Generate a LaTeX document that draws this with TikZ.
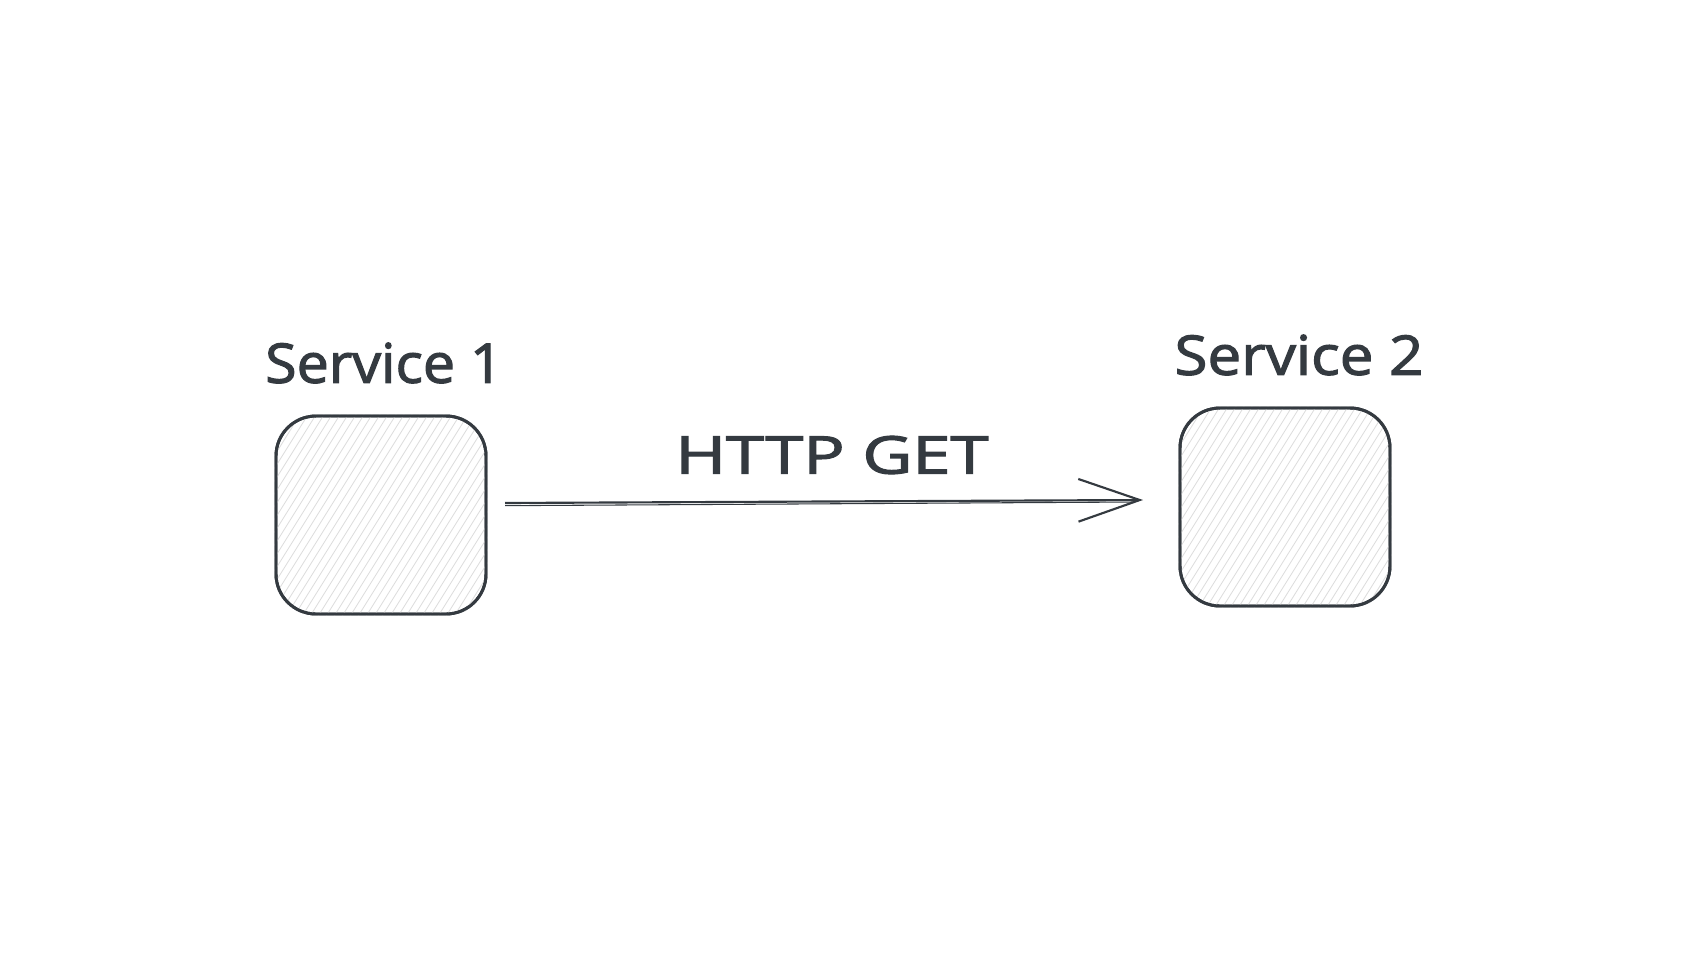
\documentclass[tikz,border=0pt]{standalone}
\usepackage{fontspec}
\setmainfont{Open Sans}
\newfontfamily\handfont{Open Sans}[FakeBold=2]
\usetikzlibrary{arrows.meta}
\definecolor{ink}{HTML}{343A40}
\definecolor{hatch}{HTML}{DCDCDC}
\tikzset{
  svcbox/.style={draw=ink, line width=2.2pt, rounded corners=30pt, minimum width=157.5pt, minimum height=148.5pt, inner sep=0pt},
  svclabel/.style={text=ink, font=\handfont\fontsize{41}{41}\selectfont, inner sep=0pt},
  conn/.style={draw=ink, line width=1.6pt, -{Straight Barb[length=46pt,width=32pt,line width=1.6pt]}},
}
\newcommand{\hatchbox}[1]{%
  \begin{scope}
    \clip[rounded corners=30pt] (#1.south west) rectangle (#1.north east);
    \foreach \k in {-300,-292,...,260} {
      \draw[hatch, line width=0.6pt] ([xshift=\k*0.75pt]#1.south west) -- ++(58:300pt);
    }
  \end{scope}}
\begin{document}
\begin{tikzpicture}[x=0.75pt,y=-0.75pt]
\useasboundingbox[fill=white] (0,0) rectangle (1704,961);
\node[svcbox] (s1) at (381,515) {};
\hatchbox{s1}
\node[svcbox] (s1b) at (381,515) {};
\node[svcbox] (s2) at (1285,507) {};
\hatchbox{s2}
\node[svcbox] (s2b) at (1285,507) {};
\node[svclabel, xscale=1.05] (l1) at (384,363) {Service 1};
\node[svclabel, xscale=1.1] (l2) at (1299,355) {Service 2};
\coordinate (a) at (505,503);
\coordinate (b) at (1143,500);
\draw[conn] (a) -- (b);
\draw[ink, line width=0.8pt] ([yshift=-2pt]a) -- ([yshift=-1.5pt,xshift=-6pt]b);
\node[text=ink, font=\handfont\fontsize{39}{39}\selectfont, inner sep=0pt, xscale=1.32] (lbl) at (832,455) {HTTP GET};
\end{tikzpicture}
\end{document}
